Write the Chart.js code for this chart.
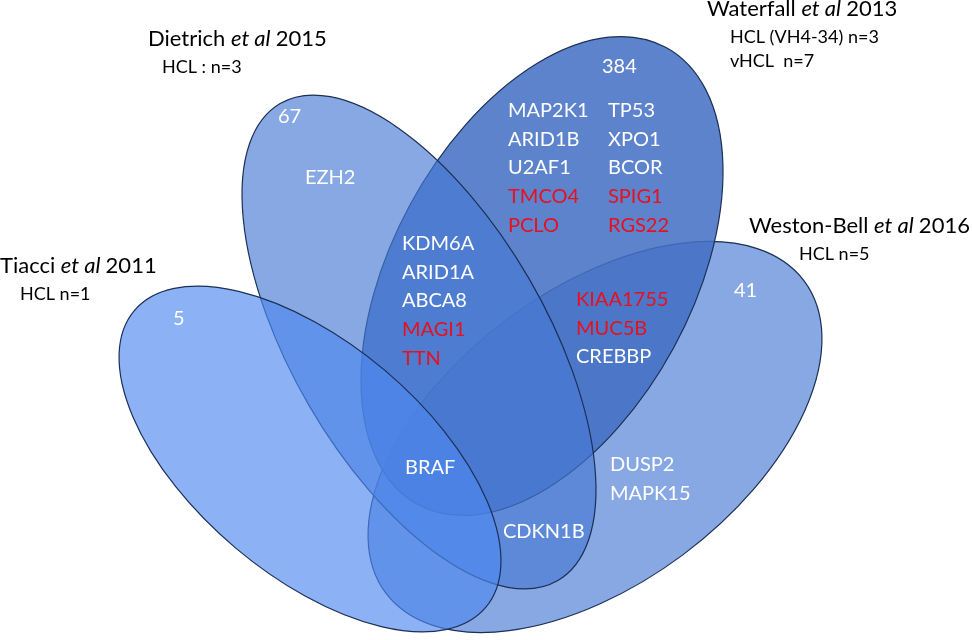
<!DOCTYPE html>
<html lang="en">
  <head>
    <meta charset="UTF-8" />
    <title>HCL mutation overlap</title>
    <script src="https://cdn.jsdelivr.net/npm/chart.js@4.4.1/dist/chart.umd.min.js"></script>
    <style>
      html, body { margin: 0; padding: 0; background: #ffffff; }
      #wrap { width: 972px; height: 640px; }
    </style>
  </head>
  <body>
    <div id="wrap"><canvas id="venn" width="972" height="640"></canvas></div>

    <script>
      // studies, in drawing order (bottom first)
      const studyAuthors = ['Weston-Bell', 'Waterfall', 'Dietrich', 'Tiacci'];
      const studyYears = [2016, 2013, 2015, 2011];
      const studyCohorts = [['HCL n=5'], ['HCL (VH4-34) n=3', 'vHCL  n=7'], ['HCL : n=3'], ['HCL n=1']];
      // genes found only in that study
      const uniqueCounts = [41, 384, 67, 5];

      // shared / listed genes per region
      const dietrichOnly = ['EZH2'];
      const waterfallOnlyLeft = ['MAP2K1', 'ARID1B', 'U2AF1', 'TMCO4', 'PCLO'];
      const waterfallOnlyRight = ['TP53', 'XPO1', 'BCOR', 'SPIG1', 'RGS22'];
      const dietrichWaterfall = ['KDM6A', 'ARID1A', 'ABCA8', 'MAGI1', 'TTN'];
      const waterfallWeston = ['KIAA1755', 'MUC5B', 'CREBBP'];
      const allFour = ['BRAF'];
      const dietrichWeston = ['CDKN1B'];
      const westonOnly = ['DUSP2', 'MAPK15'];
      // genes printed in red
      const redGenes = ['TMCO4', 'PCLO', 'SPIG1', 'RGS22', 'MAGI1', 'TTN', 'KIAA1755', 'MUC5B'];

      // layout (data units of the hidden 972 x 640 scales)
      const ellipses = [
        { cx: 595, cy: 437, rx: 261, ry: 147, rot: -36.7, fill: 'rgba(70,121,211,0.65)' },
        { cx: 542, cy: 276, rx: 260, ry: 150, rot: -61.5, fill: 'rgba(68,113,196,0.87)' },
        { cx: 419, cy: 342, rx: 276, ry: 127, rot: 59.8, fill: 'rgba(70,121,211,0.65)' },
        { cx: 310, cy: 459, rx: 230, ry: 116, rot: 40.2, fill: 'rgba(78,137,240,0.65)' }
      ];
      const titlePos = [
        { x: 749, y: 233, sub: 799, step: 0 },
        { x: 707, y: 16, sub: 730, step: 24 },
        { x: 148, y: 46, sub: 162, step: 0 },
        { x: 0, y: 273, sub: 20, step: 0 }
      ];
      const countPos = [[734, 297], [602, 73], [278, 123], [173, 325]];
      const geneBlocks = [
        { genes: dietrichOnly, x: 305, y: 184 },
        { genes: waterfallOnlyLeft, x: 508, y: 117 },
        { genes: waterfallOnlyRight, x: 608, y: 117 },
        { genes: dietrichWaterfall, x: 402, y: 250 },
        { genes: waterfallWeston, x: 576, y: 306 },
        { genes: allFour, x: 405, y: 474 },
        { genes: dietrichWeston, x: 503, y: 538 },
        { genes: westonOnly, x: 610, y: 471 }
      ];
      const lineStep = 28.7;
      const FONT = 'Lato, "Open Sans", sans-serif';

      const vennPlugin = {
        id: 'venn',
        afterDatasetsDraw(chart) {
          const ctx = chart.ctx;
          const sx = chart.scales.x;
          const sy = chart.scales.y;
          const px = v => sx.getPixelForValue(v);
          const py = v => sy.getPixelForValue(v);

          ctx.save();
          ellipses.forEach(e => {
            ctx.beginPath();
            ctx.ellipse(px(e.cx), py(e.cy), px(e.cx + e.rx) - px(e.cx), Math.abs(py(e.cy + e.ry) - py(e.cy)),
              e.rot * Math.PI / 180, 0, Math.PI * 2);
            ctx.fillStyle = e.fill;
            ctx.fill();
            ctx.lineWidth = 1.2;
            ctx.strokeStyle = '#1c2f55';
            ctx.stroke();
          });

          ctx.textBaseline = 'alphabetic';
          ctx.textAlign = 'left';

          // study titles: "Author et al Year"
          studyAuthors.forEach((name, i) => {
            const t = titlePos[i];
            let x = px(t.x);
            const y = py(t.y);
            ctx.fillStyle = '#000000';
            ctx.font = '22px ' + FONT;
            ctx.fillText(name + ' ', x, y);
            x += ctx.measureText(name + ' ').width;
            ctx.font = 'italic 22px ' + FONT;
            ctx.fillText('et al', x, y);
            x += ctx.measureText('et al ').width;
            ctx.font = '22px ' + FONT;
            ctx.fillText(String(studyYears[i]), x, y);

            ctx.font = '18px ' + FONT;
            studyCohorts[i].forEach((c, k) => {
              ctx.fillText(c, px(t.sub), py(t.y + 27 + k * t.step));
            });
          });

          // unique counts
          ctx.fillStyle = '#ffffff';
          ctx.font = '20px ' + FONT;
          uniqueCounts.forEach((n, i) => {
            ctx.fillText(String(n), px(countPos[i][0]), py(countPos[i][1]));
          });

          // gene names
          ctx.font = '20px ' + FONT;
          geneBlocks.forEach(b => {
            b.genes.forEach((g, k) => {
              ctx.fillStyle = redGenes.includes(g) ? '#e8101e' : '#ffffff';
              ctx.fillText(g, px(b.x), py(b.y + k * lineStep));
            });
          });
          ctx.restore();
        }
      };

      const ctx = document.getElementById('venn').getContext('2d');
      const vennChart = new Chart(ctx, {
        type: 'scatter',
        data: { datasets: [] },
        options: {
          responsive: false,
          animation: false,
          layout: { padding: 0 },
          plugins: { legend: { display: false }, tooltip: { enabled: false } },
          scales: {
            x: { type: 'linear', min: 0, max: 972, display: false },
            y: { type: 'linear', min: 0, max: 640, reverse: true, display: false }
          }
        },
        plugins: [vennPlugin]
      });
    </script>
  </body>
</html>
